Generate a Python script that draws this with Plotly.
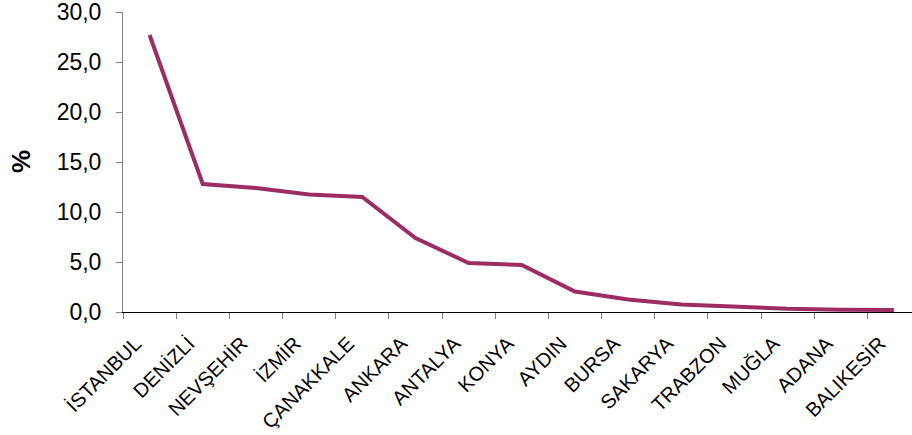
import plotly.graph_objects as go

provinces = ["İSTANBUL", "DENİZLİ", "NEVŞEHİR", "İZMİR", "ÇANAKKALE", "ANKARA", "ANTALYA",
             "KONYA", "AYDIN", "BURSA", "SAKARYA", "TRABZON", "MUĞLA", "ADANA", "BALIKESİR"]
share_pct = [27.7, 12.8, 12.4, 11.75, 11.5, 7.4, 4.9, 4.7, 2.05, 1.25, 0.75, 0.5, 0.32, 0.23, 0.2]

fig = go.Figure()
fig.add_trace(go.Scatter(
    x=provinces, y=share_pct, mode="lines",
    line=dict(color="#9B2D63", width=4),
    hoverinfo="skip", showlegend=False,
))

fig.update_layout(
    width=912, height=435,
    margin=dict(l=123, r=0, t=12, b=123, autoexpand=False),
    paper_bgcolor="white", plot_bgcolor="white",
    separators=",.",
    font=dict(family="Liberation Sans, Arial, sans-serif", size=20, color="black"),
    xaxis=dict(
        type="category", range=[-0.5, 14.34], automargin=False,
        tickson="boundaries", ticks="outside", ticklen=6, tickcolor="#808080",
        showline=True, linecolor="black", linewidth=1,
        showgrid=False, zeroline=False,
        tickangle=-45, tickfont=dict(size=20),
        ticklabelshift=-14, ticklabelstandoff=11, ticklabeloverflow="allow",
    ),
    yaxis=dict(
        range=[0, 30], dtick=5, tickformat=".1f", automargin=False,
        ticks="outside", ticklen=6, tickcolor="#808080",
        showline=True, linecolor="#808080", linewidth=1,
        showgrid=False, zeroline=False,
        tickfont=dict(size=23), ticklabelstandoff=10, ticklabeloverflow="allow",
    ),
    annotations=[dict(
        text="<b>%</b>", xref="paper", yref="paper",
        x=(21 - 123) / 789, y=0.5, xanchor="center", yanchor="middle",
        textangle=-90, showarrow=False, font=dict(size=26),
    )],
)

fig.write_html("out.html")
